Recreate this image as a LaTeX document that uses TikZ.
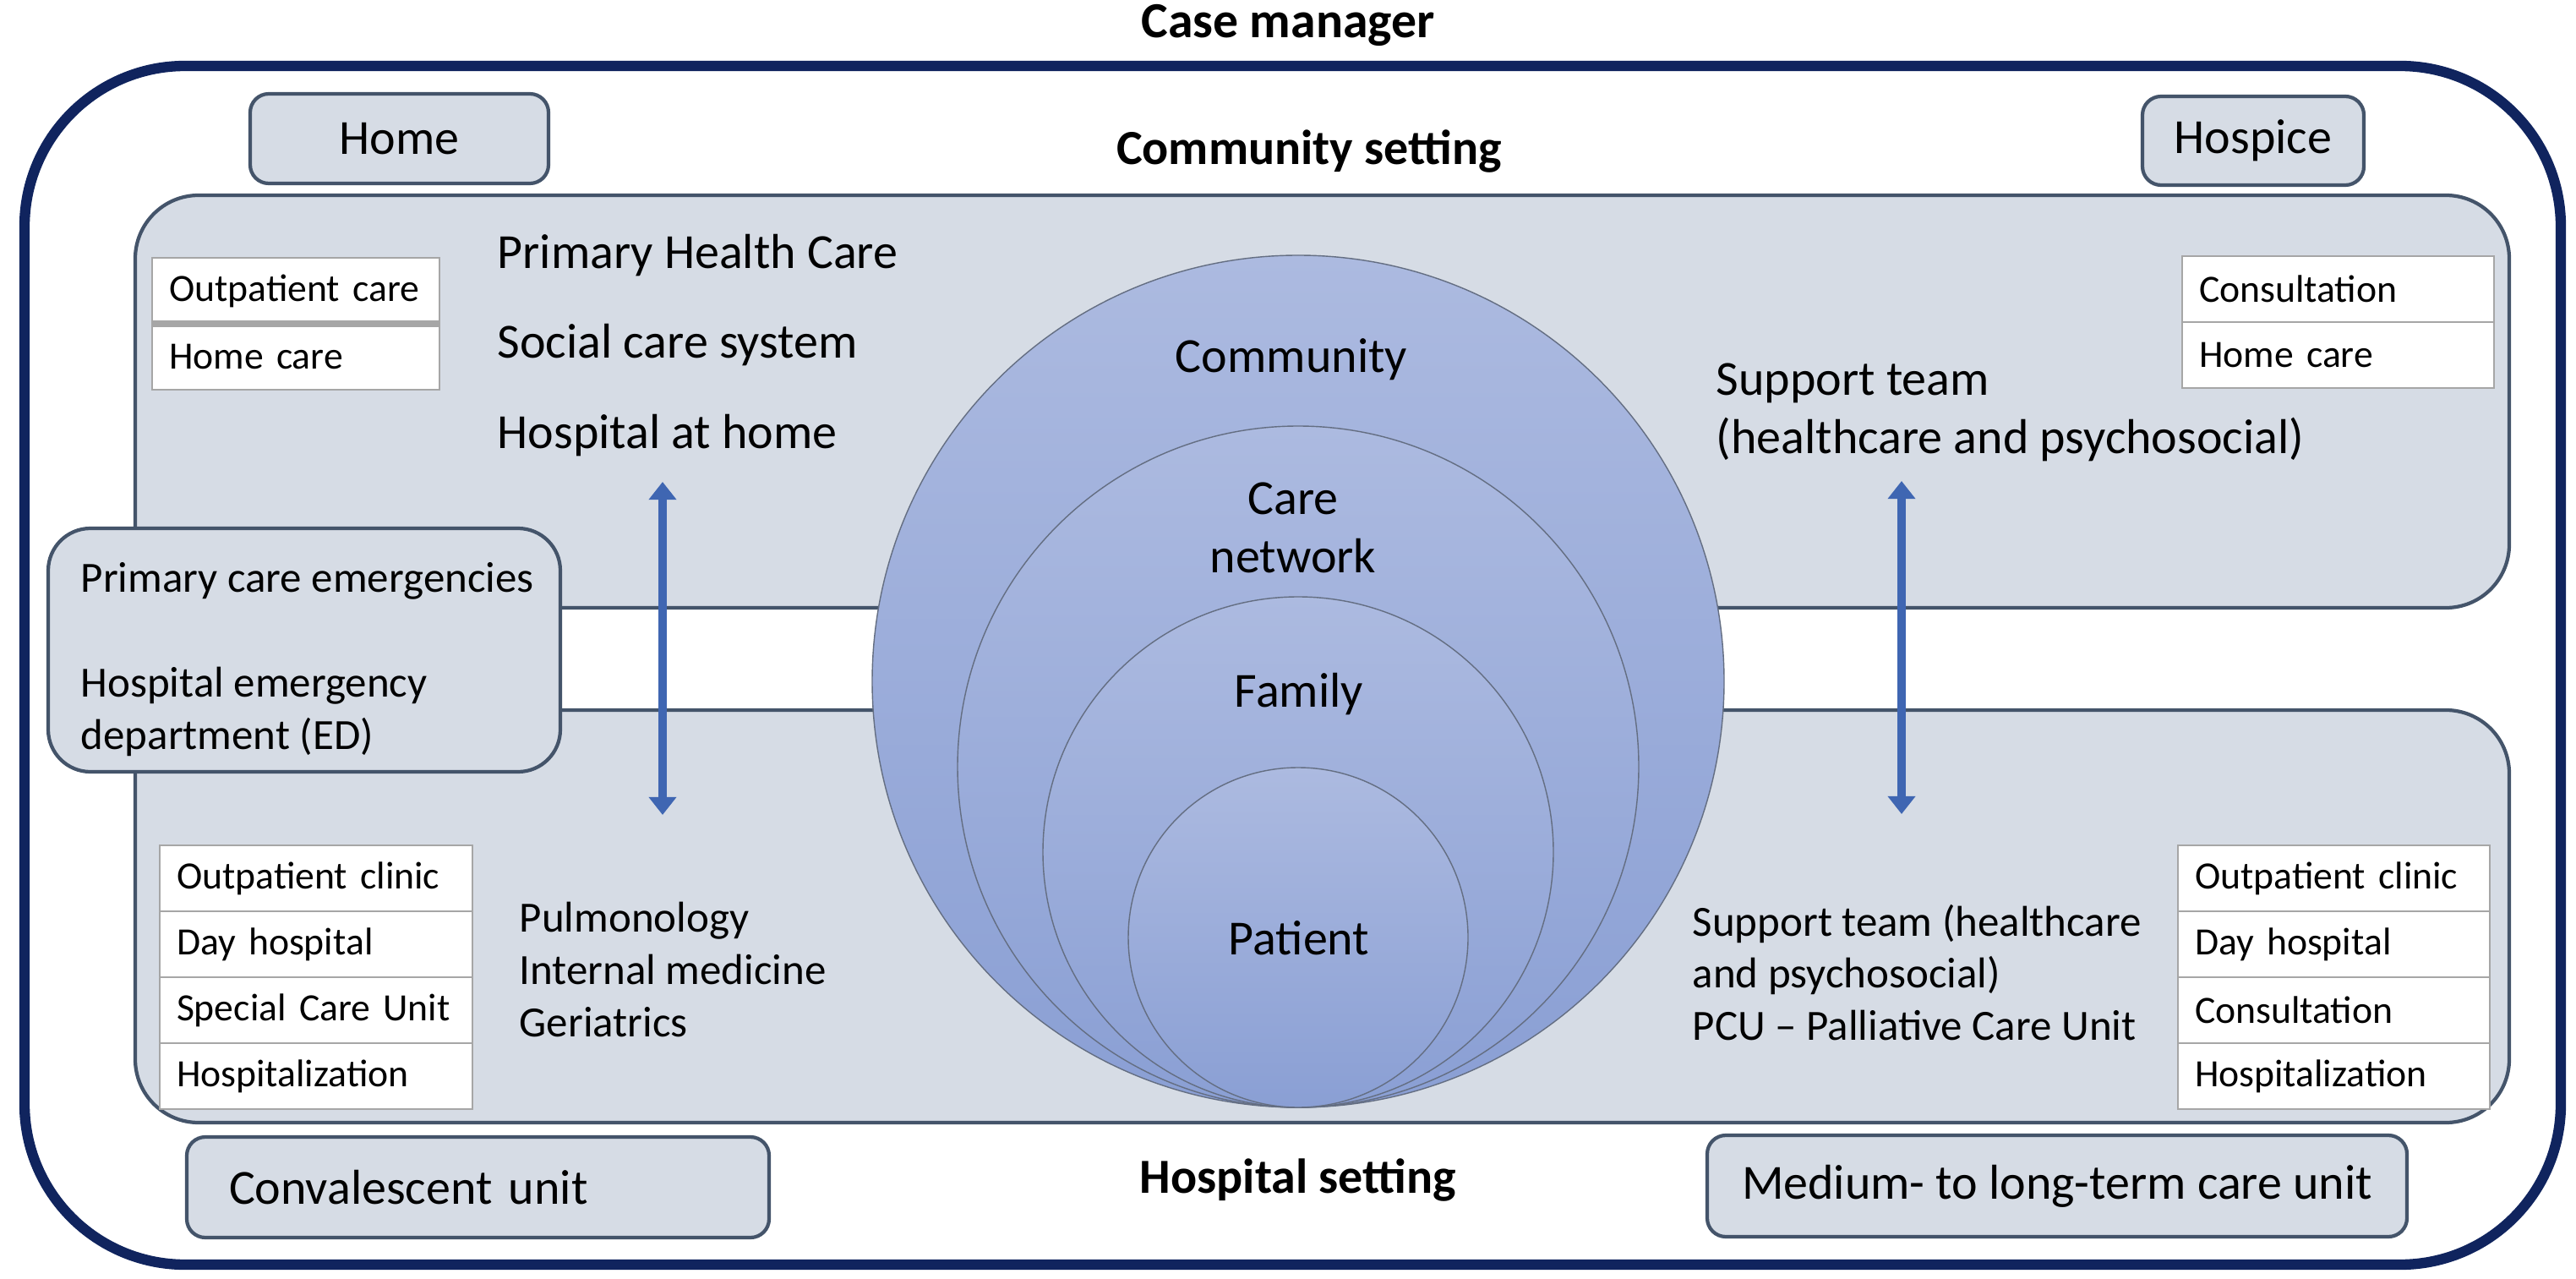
\documentclass[tikz,border=0pt]{standalone}
\usepackage{fontspec}
\setmainfont{Carlito}
\usepackage{xcolor}
\usepackage{tikz}
\usetikzlibrary{arrows.meta, shapes}

\definecolor{navyline}{RGB}{16,36,94}
\definecolor{boxfill}{RGB}{214,220,229}
\definecolor{boxedge}{RGB}{68,84,106}
\definecolor{cellline}{RGB}{166,166,166}
\definecolor{ringtop}{RGB}{172,186,224}
\definecolor{ringbot}{RGB}{138,159,212}
\definecolor{ringedge}{RGB}{100,110,130}
\definecolor{arrowblue}{RGB}{63,102,178}

\newcommand{\bigfont}{\fontsize{16.5}{19.6}\selectfont}
\newcommand{\midfont}{\fontsize{14.5}{17.6}\selectfont}
\newcommand{\cellfont}{\fontsize{13}{15.6}\selectfont\hyphenpenalty=10000\relax}

\begin{document}
\begin{tikzpicture}[
    setbox/.style={draw=boxedge, fill=boxfill, line width=1.2pt, rounded corners=0.22cm, inner sep=0pt},
    zone/.style={draw=boxedge, fill=boxfill, line width=1.2pt, rounded corners=0.75cm},
    cell/.style={draw=cellline, fill=white, line width=0.8pt, anchor=north west, outer sep=0pt,
                 minimum height=0.78cm, text width=3.3cm, inner xsep=0.2cm, inner ysep=0pt,
                 align=left, font=\cellfont},
    txt/.style={inner sep=0pt, anchor=west, align=left},
    ring/.style={circle, draw=ringedge, line width=0.4pt, top color=ringtop, bottom color=ringbot, inner sep=0pt},
    updown/.style={line width=3pt, arrowblue, {Triangle[width=9pt,length=6pt]}-{Triangle[width=9pt,length=6pt]}}
]
        \useasboundingbox (0,0) rectangle (30.48,-15.13);

        \node[font=\bfseries\fontsize{17}{20}\selectfont] (manager) at (15.24,-0.30) {Case manager};

        % Case manager frame
        \draw[navyline, line width=3.5pt, rounded corners=1.9cm] (0.29,-0.78) rectangle (30.30,-14.96);

        % Home and hospice
        \node[setbox, minimum width=3.53cm, minimum height=1.06cm, font=\bigfont] (home) at (4.725,-1.64) {Home};
        \node[setbox, minimum width=2.62cm, minimum height=1.05cm, font=\bigfont] (hospice) at (26.66,-1.665) {Hospice};
        \node[font=\bfseries\bigfont] (community) at (15.49,-1.79) {Community setting};

        % Community and hospital zones
        \draw[zone] (1.60,-2.31) rectangle (29.69,-7.19);
        \draw[zone] (1.60,-8.40) rectangle (29.69,-13.28);

        % Community table (left)
        \node[cell, text width=3.0cm] (lt1) at (1.80,-3.05) {Outpatient care};
        \node[cell, text width=3.0cm] (lt2) at (lt1.south west) {Home care};
        \draw[cellline, line width=2.2pt] (lt1.south west) -- (lt1.south east);

        \node[txt, font=\bigfont] (phc) at (5.88,-3.02) {Primary Health Care};
        \node[txt, font=\bigfont] (social) at (5.88,-4.08) {Social care system};
        \node[txt, font=\bigfont] (hah) at (5.88,-5.15) {Hospital at home};

        % Community table (right)
        \node[cell, text width=3.29cm] (rt1) at (25.82,-3.03) {Consultation};
        \node[cell, text width=3.29cm] (rt2) at (rt1.south west) {Home care};
        \node[txt, font=\bigfont] (supportup) at (20.30,-4.875) {Support team\\(healthcare and psychosocial)};

        % Hospital table (left)
        \node[cell] (lb1) at (1.89,-10.00) {Outpatient clinic};
        \node[cell] (lb2) at (lb1.south west) {Day hospital};
        \node[cell] (lb3) at (lb2.south west) {Special Care Unit};
        \node[cell] (lb4) at (lb3.south west) {Hospitalization};
        \node[txt, font=\midfont] (wards) at (6.14,-11.47) {Pulmonology\\Internal medicine\\Geriatrics};

        % Hospital table (right)
        \node[cell, text width=3.29cm] (rb1) at (25.77,-10.00) {Outpatient clinic};
        \node[cell, text width=3.29cm] (rb2) at (rb1.south west) {Day hospital};
        \node[cell, text width=3.29cm] (rb3) at (rb2.south west) {Consultation};
        \node[cell, text width=3.29cm] (rb4) at (rb3.south west) {Hospitalization};
        \node[txt, font=\midfont] (supportdown) at (20.02,-11.505) {Support team (healthcare\\and psychosocial)\\PCU -- Palliative Care Unit};

        % Emergencies
        \node[setbox, rounded corners=0.5cm, minimum width=6.06cm, minimum height=2.88cm,
              align=left, font=\midfont] (emerg) at (3.60,-7.69) {};
        \node[txt, font=\midfont] (emergtxt) at (0.95,-7.80)
              {Primary care emergencies\\[17.6pt]Hospital emergency\\department (ED)};

        % Hospital units
        \node[setbox, minimum width=6.89cm, minimum height=1.19cm, text width=5.89cm, inner xsep=0.5cm,
              align=left, font=\bigfont] (conval) at (5.655,-14.045) {Convalescent unit};
        \node[setbox, minimum width=8.28cm, minimum height=1.20cm, font=\bigfont] (medium) at (24.34,-14.03) {Medium- to long-term care unit};
        \node[font=\bfseries\bigfont] (hospital) at (15.36,-13.96) {Hospital setting};

        % Circles
        \node[ring, minimum size=10.08cm] (ringcom) at (15.36,-8.06) {};
        \node[ring, minimum size=8.06cm] (ringnet) at (15.36,-9.07) {};
        \node[ring, minimum size=6.04cm] (ringfam) at (15.36,-10.08) {};
        \node[ring, minimum size=4.02cm] (ringpat) at (15.36,-11.09) {};
        \node[font=\bigfont] (lblcom) at (15.28,-4.25) {Community};
        \node[font=\bigfont, align=center] (lblnet) at (15.30,-6.24) {Care\\network};
        \node[font=\bigfont] (lblfam) at (15.37,-8.21) {Family};
        \node[font=\bigfont] (lblpat) at (15.37,-11.10) {Patient};

        % Arrows
        \coordinate (lup) at (7.84,-5.70);
        \coordinate (ldown) at (7.84,-9.64);
        \draw[updown] (lup) -- (ldown);
        \coordinate (rup) at (22.50,-5.69);
        \coordinate (rdown) at (22.50,-9.63);
        \draw[updown] (rup) -- (rdown);
      \end{tikzpicture}
\end{document}
